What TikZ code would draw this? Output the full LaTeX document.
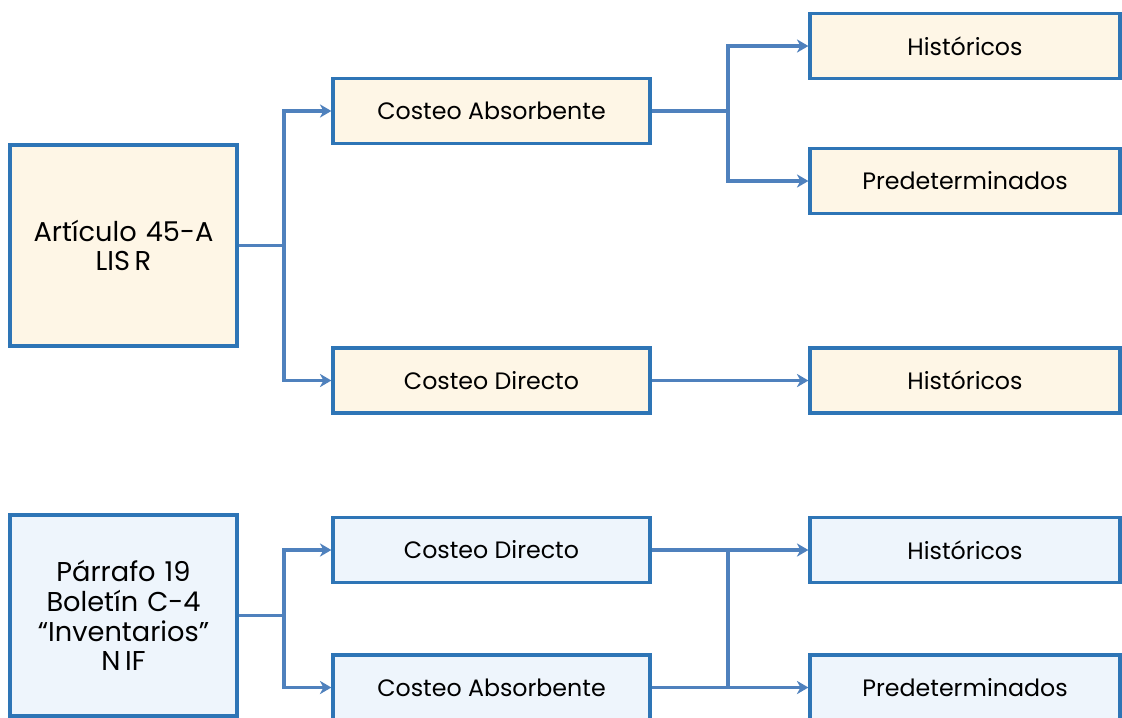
\documentclass[tikz,border=0pt]{standalone}
\usepackage{fontspec}
\setmainfont{Poppins}
\usetikzlibrary{arrows.meta, positioning, calc}
\definecolor{boxline}{RGB}{46, 117, 182}
\definecolor{linkline}{RGB}{79, 129, 189}
\definecolor{lisrfill}{RGB}{254, 246, 230}
\definecolor{niffill}{RGB}{238, 245, 252}

\begin{document}
\begin{tikzpicture}[
    x=0.02cm, y=-0.02cm,
    srcbox/.style={
        rectangle, minimum width=4.5cm, minimum height=4.02cm,
        text width=4.3cm, align=center,
        draw=boxline, line width=1.9pt,
        font=\fontsize{15.5}{17}\selectfont
    },
    methodbox/.style={
        rectangle, minimum width=6.34cm, minimum height=1.3cm,
        align=center, draw=boxline, line width=1.9pt,
        font=\fontsize{13.5}{15}\selectfont
    },
    kindbox/.style={
        methodbox, minimum width=6.2cm
    },
    link/.style={
        line width=2pt, draw=linkline
    },
    arrow/.style={
        link, -{Stealth[length=6.5pt, width=7.5pt, inset=2pt]}
    }
]
\clip (0,0) rectangle (1122,717);
\fill[white] (0,0) rectangle (1122,717);

% Articulo 45-A LISR
\node[srcbox, fill=lisrfill] (lisr) at (123.5, 245.5) {Artículo 45-A\\LIS\,R};
\node[methodbox, fill=lisrfill] (absA) at (491.5, 111) {Costeo Absorbente};
\node[methodbox, fill=lisrfill] (dirA) at (491.5, 380.5) {Costeo Directo};
\node[kindbox, fill=lisrfill] (histA) at (965, 46) {Históricos};
\node[kindbox, fill=lisrfill] (predA) at (965, 181) {Predeterminados};
\node[kindbox, fill=lisrfill] (histAA) at (965, 380.5) {Históricos};

% Parrafo 19 NIF
\node[srcbox, fill=niffill] (nif) at (123.5, 615.5) {Párrafo 19\\Boletín C-4\\“Inventarios”\\N\,IF};
\node[methodbox, fill=niffill] (dirB) at (491.5, 550) {Costeo Directo};
\node[methodbox, fill=niffill] (absB) at (491.5, 687.5) {Costeo Absorbente};
\node[kindbox, fill=niffill] (histB) at (965, 550) {Históricos};
\node[kindbox, fill=niffill] (predB) at (965, 687.5) {Predeterminados};

% Branch points
\coordinate (jA) at (284, 245.5);
\coordinate (kA) at (728, 111);
\coordinate (jB) at (284, 615.5);
\coordinate (kB) at (728, 0);

% Top connectors
\draw[link] (lisr) -- (jA);
\draw[arrow] (jA) |- (absA);
\draw[arrow] (jA) |- (dirA);
\draw[link] (absA) -- (kA);
\draw[arrow] (kA) |- (histA);
\draw[arrow] (kA) |- (predA);
\draw[arrow] (dirA) -- (histAA);

% Bottom connectors
\draw[link] (nif) -- (jB);
\draw[arrow] (jB) |- (dirB);
\draw[arrow] (jB) |- (absB);
\draw[arrow] (dirB) -- (histB);
\draw[arrow] (absB) -- (predB);
\draw[link] (kB |- dirB) -- (kB |- absB);

\end{tikzpicture}
\end{document}
